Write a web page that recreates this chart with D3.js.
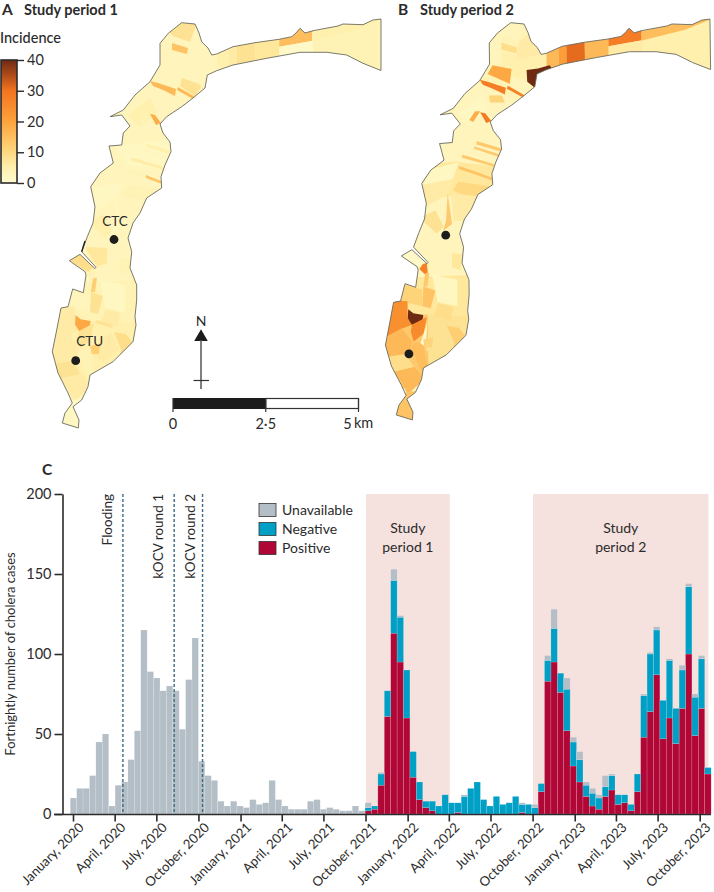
<!DOCTYPE html>
<html lang="en">
<head>
<meta charset="UTF-8" />
<title>Cholera incidence and fortnightly cases</title>
<style>
  html, body { margin: 0; background: #fff; }
  svg { display: block; }
  text { font-family: Lato, "Open Sans", sans-serif; fill: #2b2b2b; }
  .axis path, .axis line { stroke: #2b2b2b; }
  .panel { font-weight: 700; font-size: 15.5px; }
  .title { font-weight: 700; font-size: 14.5px; }
</style>
</head>
<body>
<svg id="chart" width="714" height="892"></svg>
<script src="https://d3js.org/d3.v7.min.js"></script>
<script>
// ---- panel C data, one value per fortnight, first fortnight starts 26 Dec 2019
const positive = [
  0,0,0,0,0,0,0,0,0,0, 0,0,0,0,0,0,0,0,0,0, 0,0,0,0,0,0,0,0,0,0, 0,0,0,0,0,0,0,0,0,0, 0,0,0,0,0,0,
  2,3,18,61,113,95,60,23,9,4, 2,0,0,0,1,0,0,0,0,0, 0,0,0,0,1,0,0,14,83,95,
  76,52,30,20,11,5,3,11,15,6, 7,2,14,48,64,87,47,60,44,66, 100,49,66,25
];
const negative = [
  0,0,0,0,0,0,0,0,0,0, 0,0,0,0,0,0,0,0,0,0, 0,0,0,0,0,0,0,0,0,0, 0,0,0,0,0,0,0,0,0,0, 0,0,0,0,0,0,
  2,2,7,16,33,28,30,16,11,4, 6,5,12,7,6,11,16,20,9,5, 11,6,7,11,5,6,4,5,13,21,
  12,26,15,14,7,8,7,6,9,6, 5,4,11,26,36,28,24,36,22,24, 42,24,31,4
];
const unavailable = [
  10,16,16,24,45,50,5,18,20,34, 52,115,89,85,77,80,77,53,84,110, 33,24,21,8,5,8,5,4,9,6,
  7,21,9,5,3,3,3,8,9,3, 4,3,2,2,5,2,
  3,0,1,0,7,1,0,0,0,0, 0,0,0,0,0,1,0,0,0,0, 0,0,0,0,1,0,2,0,3,12,
  0,7,3,5,2,3,2,7,1,0, 0,0,0,1,1,2,0,1,0,3, 2,2,2,0
];
const seriesKeys = ["Positive", "Negative", "Unavailable"];
const legendKeys = ["Unavailable", "Negative", "Positive"];
const seriesColours = { Positive: "#b00737", Negative: "#00a0c6", Unavailable: "#b4bec6" };
const yTicks = [0, 50, 100, 150, 200];
const quarterTicks = [
  "2020-01-01","2020-04-01","2020-07-01","2020-10-01","2021-01-01","2021-04-01","2021-07-01","2021-10-01",
  "2022-01-01","2022-04-01","2022-07-01","2022-10-01","2023-01-01","2023-04-01","2023-07-01","2023-10-01"
];
const eventNames = ["Flooding", "kOCV round 1", "kOCV round 2"];
const eventDates = ["2020-04-19", "2020-08-09", "2020-10-10"];
const studyNames = [["Study", "period 1"], ["Study", "period 2"]];
const studyStarts = ["2021-10-02", "2022-10-02"];
const studyEnds = ["2022-04-03", "2023-10-20"];

// ---- map data, in panel A's own units; both panels share the zones
const outline = [
  [181.7,22.7],[195,24],[199,33],[201.7,41.7],[208,48],[211.7,55],[216.7,54],[233,46.7],[255,42.7],[279,39.3],
  [291.7,36.7],[296,33],[300,28.3],[305,33],[313,30.7],[338,26],[343,24],[363,24.7],[373,20],[381,19],
  [381,70.5],[363,63.3],[346.7,55],[326.7,52.3],[300,52.3],[266.7,58.3],[233,65],[216.7,70.7],[207.3,75],[205,88],
  [193,98],[181.7,106.7],[166.7,116.7],[160,124],[163,133],[170,142],[171,151.7],[165,165],[161,176.7],[161.7,188],
  [146.7,198],[140,213],[133,223],[128,238],[131.7,251.7],[130,268],[136.7,285],[136.7,300],[135,316.7],[136,325],
  [133,341.7],[121.7,353],[113,361.7],[90,375],[88,386.7],[81.7,400],[73,406.7],[79,420],[78.3,428],[62.3,423],
  [65,413],[72.3,403],[68,393],[58,373],[52.3,351.7],[56.7,330],[61,308],[68,306.7],[72.7,289],[83.3,292.7],
  [86,275],[85,271.7],[69.3,260.7],[80,254.3],[95,268.7],[96,267.3],[81.7,251.7],[87.3,236.7],[93,223],[95,207],
  [90.7,186.7],[100,173],[113.3,163],[109,146],[121.7,145],[123.3,133],[130,126],[121.7,115],[110,116.7],[123.3,110],
  [135,95],[150,81.7],[160,65],[160,43.3],[168.3,33.3]
];
const zoneShapes = [
  [[150,18],[216,18],[216,90],[195,105],[150,85]],
  [[105,105],[165,90],[178,110],[172,150],[105,150]],
  [[92,168],[168,160],[165,190],[142,216],[92,212]],
  [[78,200],[142,200],[138,282],[68,282]],
  [[68,283],[140,280],[140,325],[58,322]],
  [[90,322],[140,322],[140,350],[110,368],[90,375]],
  [[48,335],[95,320],[95,380],[60,402]],
  [[165,28],[182,18],[198,20],[190,42],[173,36]],
  [[158,42],[173,36],[172,62],[155,78]],
  [[172,43],[188,48],[187,54],[172,50]],
  [[190,42],[202,32],[216,54],[186,61]],
  [[172,52],[186,56],[186,62],[214,55],[222,68],[205,82],[182,78],[172,72]],
  [[163,66],[182,70],[180,85],[158,75]],
  [[182,78],[202,85],[195,97],[180,86]],
  [[150,81],[158,83],[176,89],[175,96],[163,90],[153,86]],
  [[178,87],[195,97],[193,99],[177,90]],
  [[159,97],[172,97],[175,104],[160,104]],
  [[128,115],[150,98],[157,112],[140,127]],
  [[145,113],[150,113],[143,124],[139,122]],
  [[150,114],[155,115],[161,123],[156,125]],
  [[217,40],[229,40],[229,80],[217,80]],
  [[229,40],[237,40],[237,80],[229,80]],
  [[237,40],[255.5,40],[255.5,80],[237,80]],
  [[255.5,30],[279.5,30],[279.5,80],[255.5,80]],
  [[279,20],[313,20],[313,40.7],[279.3,46.7]],
  [[279.3,46.7],[313,40.7],[313,70],[279,70]],
  [[313,15],[385,15],[385,80],[313,80]],
  [[312,32],[340,24.5],[385,18],[356,30],[312,41]],
  [[197,71],[208.5,69.5],[220,66],[222,69],[208.5,76],[205,89],[197.5,83]],
  [[115,146],[171,140],[172,170],[128,165]],
  [[146,143.5],[171,151],[170,154],[146,147]],
  [[144,149],[170,157.5],[169,160],[143,151]],
  [[132,157.5],[163,167],[163,169.5],[131,160.5]],
  [[128,169],[146,175],[146,178],[128,172]],
  [[146,175],[161,181],[162,184],[146,178]],
  [[127,185],[162,190],[145,204],[122,194]],
  [[94,187],[122,180],[118,197],[95,210]],
  [[100,172],[128,165],[122,182],[92,188]],
  [[120,197],[150,200],[135,225],[122,225]],
  [[116.5,197],[120.5,228],[111.5,235],[114.5,225]],
  [[88,222],[104,214],[112,231],[105,238]],
  [[85,247],[107,248],[107,263],[97,267]],
  [[120,258],[132,259],[128,275],[120,272]],
  [[69,260],[80,253],[95,268],[88,272]],
  [[100,280],[125,285],[125,312],[105,308]],
  [[72,290],[90,295],[90,312],[68,307]],
  [[91,292],[103,296],[98,314],[90,312]],
  [[93,278],[97,278],[95,292],[91,292]],
  [[90.7,269],[94.7,268],[95.6,277.5],[92.3,279],[87.3,274]],
  [[105.6,309],[120.6,313],[117.3,327],[100.6,323]],
  [[97,320],[113,325],[112,328],[95,323]],
  [[52,305],[75,307],[75,324],[79,331],[69,335],[50,345]],
  [[75.6,315],[80.6,319.3],[90.6,321],[89,331],[79,331],[75,324.4]],
  [[79,331],[94,323],[90.6,340],[80.6,348],[78,338]],
  [[50,352],[57,341],[69,334.5],[79,348],[77,357],[72,361],[52,364]],
  [[50,364],[72,361],[81,374],[60,379]],
  [[60,379],[81,374],[87,381],[89,388],[74,402],[67,388]],
  [[58,402],[85,398],[85,432],[55,432]],
  [[87.3,350],[92.3,335],[94.6,328],[93.3,344.7],[90.6,352]],
  [[80.6,348],[87.3,350],[90.6,352.6],[92.3,363.5],[95.6,375],[87.3,378],[82.3,363.5],[77.3,357]],
  [[99,343],[110.6,332.5],[119,349.5],[104,361.3],[92.3,357]],
  [[114,332],[125.7,334],[138,349],[119,362],[121,349]],
  [[90,346],[100,344],[99,354],[92,354]]
];
const incidencePeriod1 = [
  3,3,3,3,4,5,5,
  8,3,14,3,3,3,8,16,16,3,5,4,18, 5,6,8,7,15,1,4,5,3,
  2,5,3,6,4,14,4,2,3,3,2,5,7,4,9, 2,3,8,12,4,6,8,6,19,8,6,8,6,2,4,4,6,9,12
];
const incidencePeriod2 = [
  4,3,7,3,7,8,13,
  3,3,9,6,5,19,3,28,27,11,2,18,29, 16,21,31,16,28,6,5,15,40,
  3,13,13,13,14,14,10,6,2,6,13,8,3,7,1, 2,11,14,13,27,9,8,24,40,25,16,9,16,14,1,15,8,12,11
];
const baseIncidence = 3;
const sites = [[114, 239.5], [75.7, 360.7]];
const siteNames = ["CTC", "CTU"];
const colourStops = [0, 5, 10, 20, 30, 35, 40];
const colourValues = ["#fffbd0", "#fff0ae", "#fed981", "#fda33b", "#f2741f", "#b04c1a", "#6f2a12"];
const legendTicks = [0, 10, 20, 30, 40];
const scaleKm = [0, 2.5, 5];

const svg = d3.select("#chart");

// ---- panels A and B
const colour = d3.scaleLinear().domain(colourStops).range(colourValues);
const asPanelA = p => p;
const asPanelB = p => [p[0] + 0.0125 * (p[1] - 23) + 329, 0.98 * p[1] + 0.46];

function drawMap(id, project, values) {
  const line = d3.line()
    .x(p => project(p)[0])
    .y(p => project(p)[1])
    .curve(d3.curveLinearClosed);
  const g = svg.append("g");
  g.append("clipPath").attr("id", id).append("path").attr("d", line(outline));
  g.append("path").attr("d", line(outline)).attr("fill", colour(baseIncidence));
  g.append("g")
    .attr("clip-path", `url(#${id})`)
    .selectAll("path")
    .data(zoneShapes)
    .join("path")
    .attr("d", line)
    .attr("fill", (d, i) => colour(values[i]));
  g.append("path")
    .attr("d", line(outline))
    .attr("fill", "none")
    .attr("stroke", "#6b6b62")
    .attr("stroke-width", 0.9);
  g.selectAll("circle")
    .data(sites)
    .join("circle")
    .attr("cx", d => project(d)[0])
    .attr("cy", d => project(d)[1])
    .attr("r", 4.4)
    .attr("fill", "#1c1c1c");
}
drawMap("clip-a", asPanelA, incidencePeriod1);
drawMap("clip-b", asPanelB, incidencePeriod2);

// dark bit of shoreline above the inlet, panel A only
svg.append("line").attr("x1", 81.7).attr("y1", 251.7).attr("x2", 85).attr("y2", 241)
  .attr("stroke", "#222").attr("stroke-width", 1.4);

svg.selectAll(".site")
  .data(siteNames)
  .join("text")
  .attr("class", "site")
  .attr("x", (d, i) => [115, 89.7][i])
  .attr("y", (d, i) => [226, 346][i])
  .attr("text-anchor", "middle")
  .attr("font-size", 13.5)
  .text(d => d);

svg.append("text").attr("class", "panel").attr("x", 2).attr("y", 15).text("A");
svg.append("text").attr("class", "title").attr("x", 24).attr("y", 15).text("Study period 1");
svg.append("text").attr("class", "panel").attr("x", 398).attr("y", 15).text("B");
svg.append("text").attr("class", "title").attr("x", 420).attr("y", 15).text("Study period 2");
svg.append("text").attr("x", 0).attr("y", 43).attr("font-size", 14.5).attr("font-weight", 500).text("Incidence");

// ---- incidence colour bar
const legendY = d3.scaleLinear().domain([0, 40]).range([183, 60]);
const grad = svg.append("defs").append("linearGradient")
  .attr("id", "incidence-grad")
  .attr("x1", 0).attr("x2", 0).attr("y1", 1).attr("y2", 0);
grad.selectAll("stop")
  .data(colourStops)
  .join("stop")
  .attr("offset", d => d / 40)
  .attr("stop-color", d => colour(d));
svg.append("rect")
  .attr("x", 1).attr("y", legendY(40))
  .attr("width", 16).attr("height", legendY(0) - legendY(40))
  .attr("fill", "url(#incidence-grad)")
  .attr("stroke", "#2b2b2b").attr("stroke-width", 1.6);
svg.append("g")
  .attr("class", "axis")
  .attr("transform", "translate(17,0)")
  .call(d3.axisRight(legendY).tickValues(legendTicks).tickSize(7).tickPadding(3))
  .call(g => g.select(".domain").remove())
  .call(g => g.selectAll("line").attr("stroke-width", 1.4))
  .selectAll("text")
  .attr("font-size", 14.5);

// ---- north arrow and scale bar
const north = svg.append("g");
north.append("text").attr("x", 201).attr("y", 326).attr("text-anchor", "middle").attr("font-size", 14).text("N");
north.append("path").attr("d", d3.symbol(d3.symbolTriangle, 80)()).attr("transform", "translate(201,337)").attr("fill", "#1c1c1c");
north.append("line").attr("x1", 201).attr("x2", 201).attr("y1", 340).attr("y2", 389).attr("stroke", "#555").attr("stroke-width", 1.5);
north.append("line").attr("x1", 193.5).attr("x2", 209).attr("y1", 380.5).attr("y2", 380.5).attr("stroke", "#333").attr("stroke-width", 1.2);

const km = d3.scaleLinear().domain([0, 5]).range([173, 358.5]);
svg.append("rect").attr("x", km(2.5)).attr("y", 398.5).attr("width", km(5) - km(2.5)).attr("height", 10)
  .attr("fill", "#fff").attr("stroke", "#333").attr("stroke-width", 1.2);
svg.append("rect").attr("x", km(0)).attr("y", 398).attr("width", km(2.5) - km(0)).attr("height", 11).attr("fill", "#1c1c1c");
svg.selectAll(".km-tick")
  .data(scaleKm)
  .join("line")
  .attr("class", "km-tick")
  .attr("x1", d => km(d)).attr("x2", d => km(d))
  .attr("y1", 398).attr("y2", 412)
  .attr("stroke", "#333").attr("stroke-width", 1.2);
svg.selectAll(".km-label")
  .data(["0", "2·5", "5"])
  .join("text")
  .attr("class", "km-label")
  .attr("x", (d, i) => km(scaleKm[i]) - (i === 2 ? 11 : 0))
  .attr("y", 429)
  .attr("text-anchor", "middle")
  .attr("font-size", 14.5)
  .text(d => d);
svg.append("text").attr("x", 354).attr("y", 428).attr("font-size", 14.5).text("km");

// ---- panel C
svg.append("text").attr("class", "panel").attr("x", 42).attr("y", 475).text("C");

const parse = d3.utcParse("%Y-%m-%d");
const firstFortnight = parse("2019-12-26");
const rows = positive.map((d, i) => ({
  start: d3.utcDay.offset(firstFortnight, 14 * i),
  end: d3.utcDay.offset(firstFortnight, 14 * (i + 1)),
  Positive: d,
  Negative: negative[i],
  Unavailable: unavailable[i]
}));

const x = d3.scaleUtc().domain([parse(quarterTicks[0]), parse(quarterTicks[15])]).range([73, 699.7]);
const y = d3.scaleLinear().domain([0, 200]).range([814, 494]);

svg.selectAll(".study")
  .data(studyStarts)
  .join("rect")
  .attr("class", "study")
  .attr("x", d => x(parse(d)))
  .attr("width", (d, i) => x(parse(studyEnds[i])) - x(parse(d)))
  .attr("y", y(200))
  .attr("height", y(0) - y(200))
  .attr("fill", "#f5e1de");

const stack = d3.stack().keys(seriesKeys)(rows);
svg.append("g")
  .selectAll("g")
  .data(stack)
  .join("g")
  .attr("fill", d => seriesColours[d.key])
  .selectAll("rect")
  .data(d => d)
  .join("rect")
  .attr("x", d => x(d.data.start))
  .attr("width", d => x(d.data.end) - x(d.data.start))
  .attr("y", d => y(d[1]))
  .attr("height", d => y(d[0]) - y(d[1]))
  .attr("stroke", "#fff")
  .attr("stroke-opacity", 0.3)
  .attr("stroke-width", 0.5);

svg.selectAll(".event")
  .data(eventDates)
  .join("line")
  .attr("class", "event")
  .attr("x1", d => x(parse(d))).attr("x2", d => x(parse(d)))
  .attr("y1", y(200)).attr("y2", y(0))
  .attr("stroke", "#3c6b82")
  .attr("stroke-width", 1.4)
  .attr("stroke-dasharray", "3 2");
svg.selectAll(".event-label")
  .data(eventNames)
  .join("text")
  .attr("class", "event-label")
  .attr("transform", (d, i) => `translate(${x(parse(eventDates[i])) - [10.5, 11, 8][i]},494) rotate(-90)`)
  .attr("text-anchor", "end")
  .attr("font-size", 13.5)
  .text(d => d);

studyNames.forEach((lines, k) => {
  const cx = (x(parse(studyStarts[k])) + x(parse(studyEnds[k]))) / 2;
  svg.append("g").selectAll("text")
    .data(lines)
    .join("text")
    .attr("x", cx)
    .attr("y", (d, i) => 533 + i * 19)
    .attr("text-anchor", "middle")
    .attr("font-size", 14)
    .text(d => d);
});

const legend = svg.append("g").selectAll("g")
  .data(legendKeys)
  .join("g")
  .attr("transform", (d, i) => `translate(259,${503.5 + i * 19})`);
legend.append("rect")
  .attr("width", 17).attr("height", 13)
  .attr("fill", d => seriesColours[d])
  .attr("stroke", "#333").attr("stroke-width", 0.8);
legend.append("text").attr("x", 23).attr("y", 11.5).attr("font-size", 14).text(d => d);

const yAxis = svg.append("g")
  .attr("class", "axis")
  .attr("transform", "translate(62.5,0)")
  .call(d3.axisLeft(y).tickValues(yTicks).tickSize(8).tickSizeOuter(0).tickPadding(3));
yAxis.selectAll("path,line").attr("stroke-width", 1.6);
yAxis.selectAll("text").attr("font-size", 14.5);

const xAxis = svg.append("g")
  .attr("class", "axis")
  .attr("transform", "translate(0,814.5)")
  .call(d3.axisBottom(x).tickValues(quarterTicks.map(parse)).tickSize(7).tickSizeOuter(0).tickFormat(d3.utcFormat("%B, %Y")));
xAxis.select(".domain").attr("d", "M54,0H711");
xAxis.selectAll("path,line").attr("stroke-width", 1.6);
xAxis.selectAll("text")
  .attr("font-size", 13.2)
  .attr("text-anchor", "end")
  .attr("dx", 7)
  .attr("dy", 6)
  .attr("transform", function () {
    return `translate(2,4.5) rotate(-45,0,${+d3.select(this).attr("y")})`;
  });

svg.append("text")
  .attr("transform", "translate(15,654) rotate(-90)")
  .attr("text-anchor", "middle")
  .attr("font-size", 13)
  .text("Fortnightly number of cholera cases");
</script>
</body>
</html>
